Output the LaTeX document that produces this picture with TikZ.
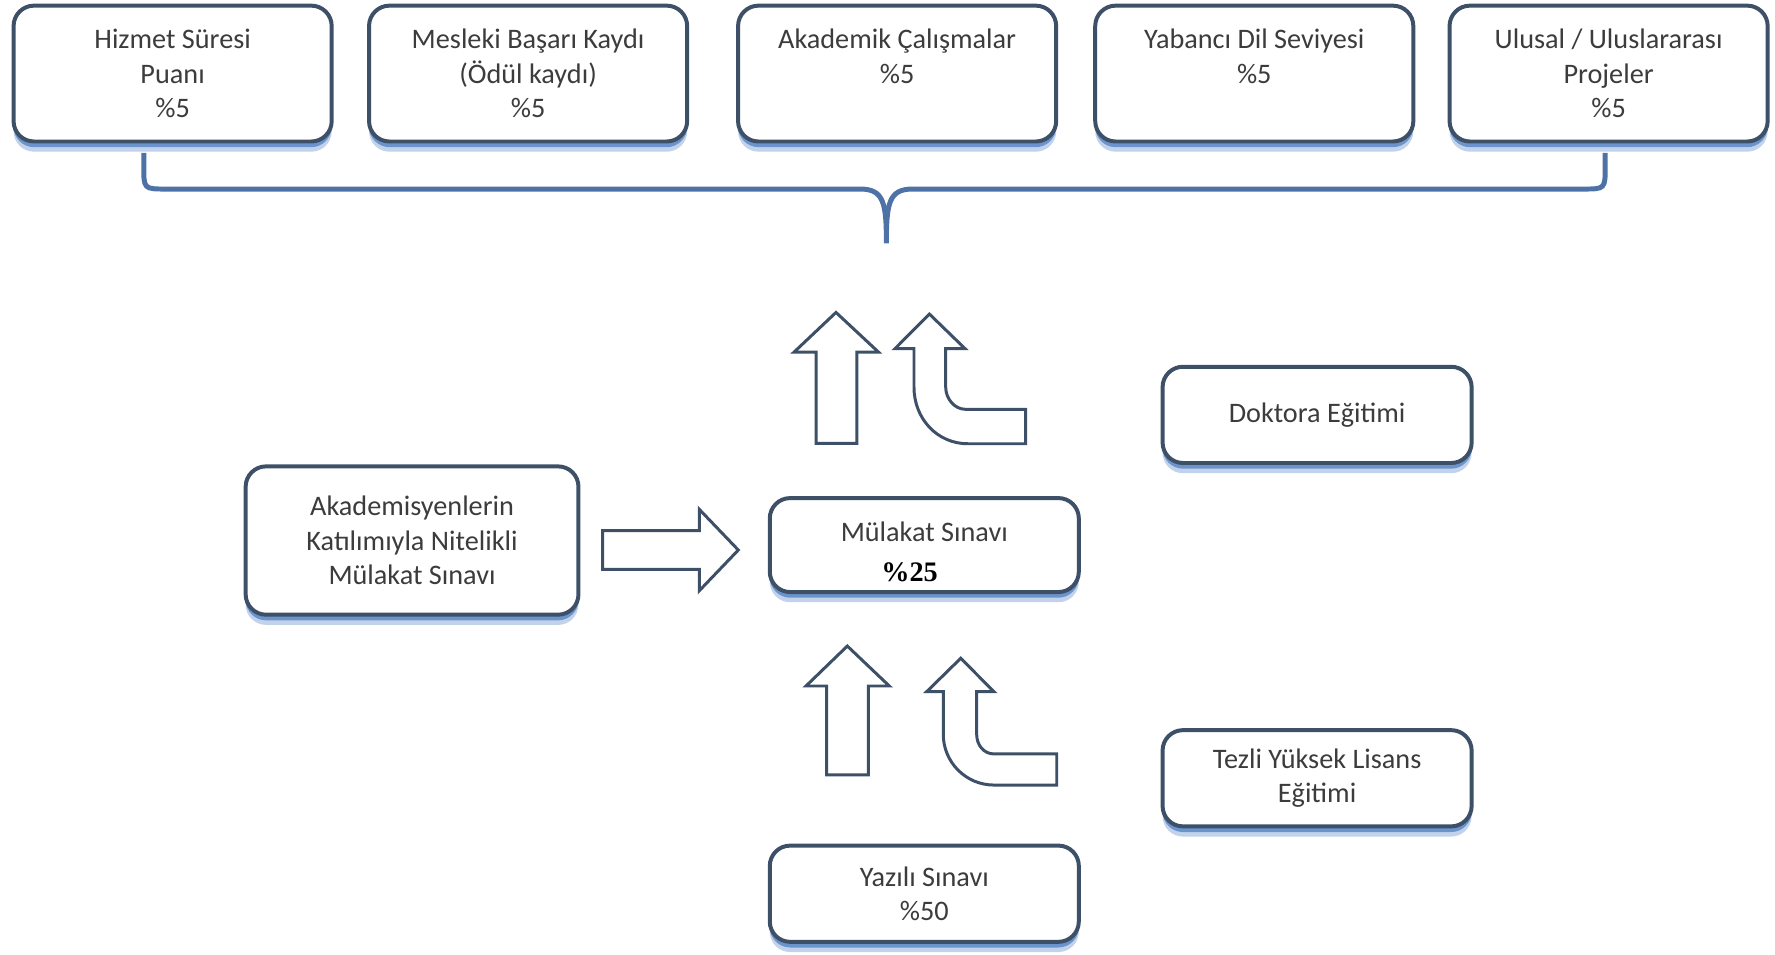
\documentclass[tikz,border=0pt]{standalone}
\usepackage{fontspec}
\setmainfont{Carlito}
\newfontfamily\serifyazi{Liberation Serif}
\usetikzlibrary{shadows}
\definecolor{kenar}{HTML}{3D5068}
\definecolor{golge}{HTML}{4F7FC2}
\definecolor{parantezrenk}{HTML}{4E72A6}
\definecolor{yazi}{HTML}{3C3C3C}
\begin{document}
\begin{tikzpicture}[x=0.2mm,y=-0.2mm,
		kutu/.style={draw=kenar, line width=2pt, fill=white, rounded corners=3.6mm, align=center, inner sep=0pt, text=yazi,
			font=\fontsize{14.2}{17.4}\selectfont,
			drop shadow={shadow xshift=0mm, shadow yshift=-1.8mm, fill=golge, opacity=.35},
			drop shadow={shadow xshift=0mm, shadow yshift=-1.0mm, fill=golge, opacity=.75}},
		ustkutu/.style={kutu, minimum width=56.2mm, minimum height=24mm},
		altkutu/.style={kutu, minimum width=54.6mm, minimum height=17mm},
		blokok/.style={draw=kenar, line width=1.5pt, fill=white, line join=miter},
		parantez/.style={draw=parantezrenk, line width=2.5pt}]
		\useasboundingbox (0,0) rectangle (1568,843);						% Sınırlar

		% Kriterler
		\node[ustkutu] (hizmet)   at (152.5,65) {Hizmet Süresi\\Puanı\\\%5};
		\node[ustkutu] (mesleki)  at (466.5,65) {Mesleki Başarı Kaydı\\(Ödül kaydı)\\\%5};
		\node[ustkutu] (akademik) at (792.5,65) {Akademik Çalışmalar\\\%5\\~};
		\node[ustkutu] (yabanci)  at (1108,65)  {Yabancı Dil Seviyesi\\\%5\\~};
		\node[ustkutu] (ulusal)   at (1421,65)  {Ulusal / Uluslararası\\Projeler\\\%5};

		% Parantez
		\coordinate (pSol) at (127,135);
		\coordinate (pSag) at (1418,135);
		\coordinate (pUc)  at (783,215);
		\draw[parantez] (pSol) -- (127,147) .. controls (127,167) .. (147,167) -- (760,167)
			.. controls (781,167) and (783,180) .. (pUc)
			.. controls (783,180) and (785,167) .. (806,167) -- (1398,167)
			.. controls (1418,167) .. (1418,147) -- (pSag);

		% Sınavlar
		\node[kutu, minimum width=58.8mm, minimum height=26.2mm] (akademisyen) at (364,477.5)
			{Akademisyenlerin\\Katılımıyla Nitelikli\\Mülakat Sınavı};
		\node[altkutu, minimum height=16.6mm] (mulakat) at (816.5,481.5)
			{\rule{0pt}{5.8mm}Mülakat Sınavı\\[3pt]\hspace*{-5.2mm}{\serifyazi\bfseries\color{black}\%25}};
		\node[altkutu] (yazili)  at (816.5,789.5)  {Yazılı Sınavı\\\%50};
		\node[altkutu] (doktora) at (1163.5,366.5) {Doktora Eğitimi};
		\node[altkutu] (tezli)   at (1163.5,687.5) {Tezli Yüksek Lisans\\Eğitimi};

		% Oklar
		\draw[blokok] (532.4,468.8) -- (617.8,468.8) -- (617.8,450) -- (652.2,485.9)
			-- (617.8,521.8) -- (617.8,503) -- (532.4,503) -- cycle;
		\draw[blokok] (721,391.6) -- (721,311) -- (701.5,311) -- (738.5,276)
			-- (776,311) -- (757,311) -- (757,391.6) -- cycle;
		\draw[blokok] (807.4,308) -- (790.6,308) -- (821,277.4) -- (852.5,308) -- (835.4,308)
			-- (835.4,342) .. controls (835.4,352) and (843,361.6) .. (853,361.6) -- (906,361.6) -- (906,392)
			-- (855,392) .. controls (828,392) and (807.4,370) .. (807.4,342) -- cycle;
		\draw[blokok] (730.3,684.6) -- (730.3,606) -- (712,606) -- (748.5,570.7)
			-- (785.6,606) -- (767,606) -- (767,684.6) -- cycle;
		\draw[blokok] (833.3,611) -- (818.6,611) -- (848.7,581.5) -- (878,611) -- (862.8,611)
			-- (862.8,649) .. controls (862.8,658) and (869,666) .. (878,666) -- (933.5,666) -- (933.5,693.5)
			-- (878,693.5) .. controls (853,693.5) and (833.3,673) .. (833.3,649) -- cycle;
\end{tikzpicture}
\end{document}
